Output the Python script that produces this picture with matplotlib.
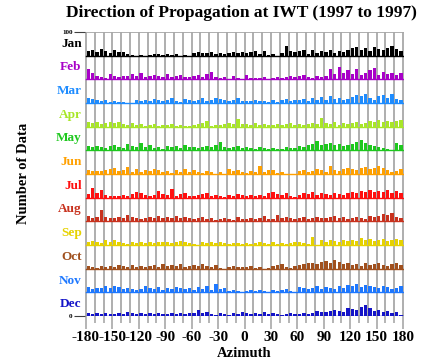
import numpy as np
import matplotlib
matplotlib.use('Agg')
import matplotlib.pyplot as plt

months = ['Jan', 'Feb', 'Mar', 'Apr', 'May', 'Jun',
          'Jul', 'Aug', 'Sep', 'Oct', 'Nov', 'Dec']
month_colors = ['#000000', '#a800c8', '#1e8cff', '#a8e628', '#1ec81e', '#ffa000',
                '#ff1010', '#c8321e', '#e6d200', '#a0501e', '#1e78ff', '#1414c8']

# 5 degree bins from -180 to 180
bin_edges = np.arange(-180, 180, 5)

jan = [5,6,4,7,5,3, 6,4,4,2,1,0, 1,0,1,2,2,1, 2,1,2,0,1,0, 3,4,3,3,4,2, 3,2,3,4,3,4,
       3,4,5,2,5,1, 2,0,3,10,5,4, 5,6,2,6,3,5, 4,6,3,5,4,6, 8,9,6,8,5,9, 7,6,8,10,7,5]
feb = [10,6,3,2,1,5, 3,2,3,3,5,3, 6,2,3,4,3,2, 5,2,3,4,2,2, 3,4,2,5,7,2, 1,2,0,3,1,0,
       4,1,1,1,2,0, 1,2,1,2,3,2, 3,4,2,1,3,2, 3,10,5,12,6,9, 5,10,4,6,9,11, 4,7,5,6,4,6]
mar = [5,4,3,2,3,1, 2,1,1,0,0,3, 2,3,2,4,3,2, 3,5,2,1,4,3, 2,3,5,2,3,5, 4,3,2,3,5,2,
       2,2,3,2,2,1, 3,1,3,4,2,3, 3,4,2,5,3,6, 3,7,4,5,3,4, 6,8,7,9,5,3, 7,8,5,9,4,3]
apr = [5,4,5,3,4,5, 4,5,3,2,4,2, 3,1,2,3,1,2, 2,3,1,2,1,1, 2,3,4,6,1,2, 2,3,4,3,8,3,
       3,2,4,2,3,2, 2,3,2,3,4,2, 3,2,3,4,3,9, 4,3,5,2,4,3, 4,5,3,4,6,5, 7,5,6,5,6,7]
may = [4,3,4,3,2,4, 5,3,2,6,4,3, 7,3,5,2,3,1, 4,3,4,2,5,3, 3,2,3,4,3,5, 8,3,2,3,4,2,
       3,2,1,3,2,1, 2,1,1,3,2,2, 4,3,5,6,9,5, 6,7,5,6,4,5, 6,8,10,7,5,4, 3,2,1,0,7,5]
jun = [4,3,3,3,4,5, 6,3,4,7,2,5, 2,4,3,5,4,2, 3,1,4,2,5,2, 4,2,1,3,2,0, 2,0,5,3,4,2,
       1,3,2,8,2,4, 4,1,2,0,0,0, 3,4,2,3,5,4, 2,8,4,3,5,6, 5,4,6,7,5,6, 8,6,4,2,3,5]
jul = [4,10,5,8,3,2, 2,2,3,2,4,6, 5,3,2,3,7,4, 3,9,2,4,5,2, 2,3,4,5,2,3, 2,1,3,2,4,3,
       2,3,2,3,2,5, 6,4,3,5,2,1, 3,5,4,6,3,5, 4,3,5,4,3,5, 6,5,7,6,8,6, 7,6,8,5,7,5]
aug = [5,3,4,11,4,3, 3,4,3,6,4,3, 2,3,4,3,5,3, 4,3,5,3,4,3, 2,3,4,2,3,1, 2,3,2,1,4,2,
       2,3,2,3,5,2, 2,6,3,4,3,2, 3,4,2,3,4,3, 3,4,5,3,4,2, 3,4,3,2,5,4, 5,7,6,8,4,3]
sep = [3,4,3,2,5,3, 5,3,2,1,3,2, 3,2,3,2,3,3, 3,2,3,4,3,2, 1,0,3,2,3,2, 3,2,1,2,2,1,
       2,1,2,3,2,1, 3,1,2,1,2,3, 3,2,1,8,0,5, 3,5,4,3,5,4, 5,4,7,5,6,4, 5,6,4,5,6,5]
oct_ = [3,2,1,3,2,3, 2,4,3,2,4,2, 3,2,3,4,2,5, 3,4,3,5,2,3, 4,3,5,3,2,4, 1,0,2,3,2,2,
        2,3,1,2,0,1, 3,4,5,2,1,3, 4,5,6,6,5,7, 8,6,9,7,5,6, 4,5,3,6,4,5, 6,4,3,5,6,4]
nov = [5,3,4,4,6,4, 6,5,3,4,3,2, 3,6,4,3,5,2, 4,3,5,4,3,4, 2,5,3,6,2,8, 3,4,1,2,1,0,
       1,2,1,2,1,0, 2,1,2,3,1,0, 5,4,3,4,6,3, 5,4,3,6,4,7, 6,8,5,7,6,5, 4,6,5,3,4,6]
dec = [3,2,3,2,3,2, 2,3,2,4,3,2, 3,2,3,2,3,2, 2,3,2,3,2,3, 3,6,3,4,2,1, 3,2,1,3,2,4,
       3,2,3,2,4,2, 3,2,1,2,3,2, 2,3,2,3,5,4, 4,5,6,5,4,8, 7,6,9,11,8,5, 6,4,5,3,4,1]

counts = [jan, feb, mar, apr, may, jun, jul, aug, sep, oct_, nov, dec]

plt.rcParams['font.family'] = ['Liberation Serif', 'DejaVu Serif']
plt.rcParams['font.weight'] = 'bold'
plt.rcParams['axes.unicode_minus'] = False

fig = plt.figure(figsize=(4.32, 3.62), dpi=100)
ax = fig.add_axes([0.197, 0.127, 0.738, 0.785])

row_h = 100 / 12
scale = 100 / 284  # one count ~ one pixel

for i in range(12):
    base = (11 - i) * row_h
    ax.bar(bin_edges + 0.6, np.array(counts[i]) * scale, width=3.8, bottom=base,
           align='edge', color=month_colors[i], linewidth=0, zorder=3)
    ax.plot([-180, 180], [base, base], color=month_colors[i], lw=1.0, zorder=4)
    ax.text(-185, base + row_h * 0.5, months[i], color=month_colors[i],
            fontsize=9.5, fontweight='bold', ha='right', va='center')

for xv in np.arange(-180, 181, 10):
    ax.axvline(xv, color='#a8a8a8', lw=1.3, zorder=1)
ax.axhline(100, color='#a8a8a8', lw=1.3, zorder=1)

for s in ax.spines.values():
    s.set_visible(False)

ax.set_xlim(-181, 181)
ax.set_ylim(0, 100)
ax.set_xticks(np.arange(-180, 181, 30))
ax.set_xticks(np.arange(-180, 181, 10), minor=True)
ax.tick_params(axis='x', which='major', length=9, width=1.2, color='#a8a8a8',
               labelsize=11, pad=2)
ax.tick_params(axis='x', which='minor', length=5, width=1.2, color='#a8a8a8')
ax.set_yticks([0, 100])
ax.set_yticklabels(['0', '100'], fontsize=5, fontweight='bold')
ax.tick_params(axis='y', length=8, width=0.8, color='#404040', pad=1)

ax.set_xlabel('Azimuth', fontsize=10.5, fontweight='bold', labelpad=2)
fig.text(0.055, 0.52, 'Number of Data', rotation=90, fontsize=10.5,
         fontweight='bold', ha='center', va='center')
fig.text(0.56, 0.965, 'Direction of Propagation at IWT (1997 to 1997)',
         fontsize=12.5, fontweight='bold', ha='center', va='center')

fig.savefig('out.png', dpi=100)
